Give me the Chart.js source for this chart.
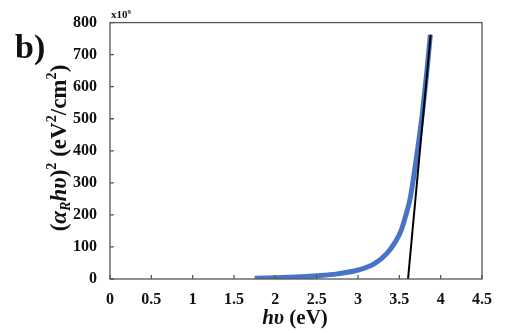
<!DOCTYPE html>
<html>
<head>
<meta charset="utf-8">
<script src="https://cdn.jsdelivr.net/npm/chart.js@4"></script>
<style>
  html, body { margin: 0; padding: 0; background: #fff; }
  #wrap { width: 508px; height: 333px; position: relative; }
</style>
</head>
<body>
<div id="wrap"><canvas id="myChart" width="508" height="333"></canvas></div>
<script>
// Tauc plot data, (alpha_R h nu)^2 in units of 1e9
var hvData = [1.75, 2.0, 2.25, 2.5, 2.75, 3.0, 3.2, 3.35, 3.45, 3.52, 3.58, 3.63, 3.68, 3.73, 3.78, 3.83, 3.875];
var ahvData = [2, 4, 6, 10, 16, 28, 48, 80, 115, 150, 200, 250, 330, 420, 520, 640, 762];
// linear fit to the absorption edge
var fitHv = [3.605, 3.879];
var fitVal = [0, 762];

var xTicks = [0, 0.5, 1, 1.5, 2, 2.5, 3, 3.5, 4, 4.5];
var yTicks = [0, 100, 200, 300, 400, 500, 600, 700, 800];

var serif = "'Liberation Serif', 'Times New Roman', serif";
var axisColor = '#555555';

function toPoints(xs, ys) {
  return xs.map(function (x, i) { return { x: x, y: ys[i] }; });
}

// draws text made of pieces (italic / sub / sup), centred on cx
function drawRich(ctx, segs, cx, cy, size) {
  var total = 0;
  segs.forEach(function (s) {
    var sz = s.s ? size * 0.62 : size;
    ctx.font = (s.i ? 'italic ' : '') + 'bold ' + sz + 'px ' + serif;
    s.w = ctx.measureText(s.t).width;
    total += s.w;
  });
  var x = cx - total / 2;
  ctx.textBaseline = 'middle';
  ctx.textAlign = 'left';
  segs.forEach(function (s) {
    var sz = s.s ? size * 0.62 : size;
    var dy = s.s == 'sup' ? -size * 0.32 : (s.s == 'sub' ? size * 0.28 : 0);
    ctx.font = (s.i ? 'italic ' : '') + 'bold ' + sz + 'px ' + serif;
    ctx.fillText(s.t, x, cy + dy);
    x += s.w;
  });
}

var decor = {
  id: 'decor',
  afterDraw: function (chart) {
    var ctx = chart.ctx, a = chart.chartArea;
    var xs = chart.scales.x, ys = chart.scales.y;
    ctx.save();
    // frame
    ctx.strokeStyle = axisColor;
    ctx.lineWidth = 1.3;
    ctx.strokeRect(a.left, a.top, a.right - a.left, a.bottom - a.top);
    // inward tick marks
    ctx.beginPath();
    yTicks.forEach(function (v) {
      var py = ys.getPixelForValue(v);
      ctx.moveTo(a.left, py); ctx.lineTo(a.left + 4, py);
    });
    xTicks.forEach(function (v) {
      var px = xs.getPixelForValue(v);
      ctx.moveTo(px, a.bottom); ctx.lineTo(px, a.bottom - 4);
    });
    ctx.stroke();

    ctx.fillStyle = '#111';
    // panel label
    ctx.font = 'bold 34px ' + serif;
    ctx.textBaseline = 'alphabetic';
    ctx.fillText('b)', 15, 58);
    // multiplier
    drawRich(ctx, [{ t: 'x10' }, { t: '9', s: 'sup' }], a.left + 11, a.top - 7, 11);
    // x axis title
    drawRich(ctx, [{ t: 'hυ', i: 1 }, { t: ' (eV)' }], 295, 319, 21);
    // y axis title
    ctx.translate(60, 148);
    ctx.rotate(-Math.PI / 2);
    drawRich(ctx, [
      { t: '(' }, { t: 'α', i: 1 }, { t: 'R', i: 1, s: 'sub' }, { t: 'hυ', i: 1 }, { t: ')' },
      { t: '2', s: 'sup' }, { t: ' (eV' }, { t: '2', s: 'sup' }, { t: '/cm' }, { t: '2', s: 'sup' }, { t: ')' }
    ], 0, 0, 23);
    ctx.restore();
  }
};

var config = {
  type: 'line',
  data: {
    datasets: [
      {
        label: 'fit',
        data: toPoints(fitHv, fitVal),
        borderColor: '#000000',
        borderWidth: 2,
        pointRadius: 0,
        order: 0
      },
      {
        label: 'data',
        data: toPoints(hvData, ahvData),
        borderColor: '#4874c8',
        borderWidth: 5,
        pointRadius: 0,
        cubicInterpolationMode: 'monotone',
        borderCapStyle: 'butt',
        order: 1
      }
    ]
  },
  options: {
    responsive: false,
    animation: false,
    layout: { padding: { left: 0, right: 26, top: 17, bottom: 0 } },
    plugins: { legend: { display: false }, tooltip: { enabled: false } },
    scales: {
      x: {
        type: 'linear',
        min: 0, max: 4.5,
        afterBuildTicks: function (s) { s.ticks = xTicks.map(function (v) { return { value: v }; }); },
        afterFit: function (s) { s.height = 54; },
        grid: { display: false, drawTicks: false },
        border: { display: false },
        ticks: {
          color: '#111', padding: 11, maxRotation: 0,
          font: { family: serif, size: 16, weight: 'bold' },
          callback: function (v) { return String(v); }
        }
      },
      y: {
        min: 0, max: 800,
        afterBuildTicks: function (s) { s.ticks = yTicks.map(function (v) { return { value: v }; }); },
        afterFit: function (s) { s.width = 110; },
        grid: { display: false, drawTicks: false },
        border: { display: false },
        ticks: { color: '#111', padding: 13, font: { family: serif, size: 16, weight: 'bold' } }
      }
    }
  },
  plugins: [decor]
};

var chartInstance = new Chart(document.getElementById('myChart'), config);
</script>
</body>
</html>
